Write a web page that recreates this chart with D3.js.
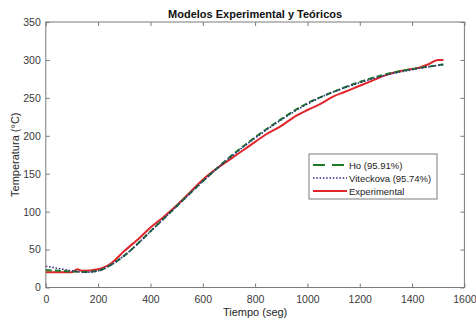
<!DOCTYPE html>
<html>
<head>
<meta charset="utf-8">
<script src="https://cdn.jsdelivr.net/npm/d3@7"></script>
<style>
  body { margin: 0; background: #fff; }
  text { font-family: "Liberation Sans", Arial, sans-serif; }
</style>
</head>
<body>
<div id="chart"></div>
<script>
// time (s) and temperature (°C)
const expT = [0, 50, 100, 120, 140, 200, 250, 300, 360, 400, 450, 500, 550, 600, 666, 700, 750, 800, 838, 900, 950, 1000, 1050, 1100, 1144, 1200, 1250, 1300, 1350, 1400, 1430, 1460, 1500, 1520];
const expY = [20, 20, 20, 24, 22, 24, 32, 48, 66, 79, 93, 108, 125, 142, 160, 168, 180, 192, 201, 213, 225, 234, 242, 252, 258, 266, 273, 280, 285, 288, 290, 294, 300, 300];

const modT = [0, 50, 100, 150, 200, 250, 300, 400, 500, 600, 700, 800, 900, 1000, 1100, 1200, 1300, 1400, 1500, 1520];
const hoY = [23, 22, 21, 20.5, 22, 30, 42, 74, 107, 140, 171, 198, 222, 243, 258, 271, 281, 288, 293, 294];
const vitY = [28, 25, 22, 20, 22, 30, 42, 74, 107, 140, 170, 197, 221, 242, 258, 270, 280, 287, 293, 294];

const xTicks = [0, 200, 400, 600, 800, 1000, 1200, 1400, 1600];
const yTicks = [0, 50, 100, 150, 200, 250, 300, 350];
const legendLabels = ["Ho (95.91%)", "Viteckova (95.74%)", "Experimental"];

const width = 476, height = 323;
const margin = { top: 22, right: 11.6, bottom: 35.5, left: 45.8 };

const svg = d3.select("#chart").append("svg")
    .attr("width", width)
    .attr("height", height);

const x = d3.scaleLinear().domain([0, 1600]).range([margin.left, width - margin.right]);
const y = d3.scaleLinear().domain([0, 350]).range([height - margin.bottom, margin.top]);

const axisColor = "#7a7a7a";

// lines
const line = d3.line().x(d => x(d[0])).y(d => y(d[1])).curve(d3.curveMonotoneX);

svg.append("path")
    .datum(expT.map((t, i) => [t, expY[i]]))
    .attr("fill", "none")
    .attr("stroke", "#e0262b")
    .attr("stroke-width", 2)
    .attr("d", line);

svg.append("path")
    .datum(modT.map((t, i) => [t, hoY[i]]))
    .attr("fill", "none")
    .attr("stroke", "#1d7a25")
    .attr("stroke-width", 2)
    .attr("stroke-dasharray", "6,3")
    .attr("d", line);

svg.append("path")
    .datum(modT.map((t, i) => [t, vitY[i]]))
    .attr("fill", "none")
    .attr("stroke", "#2a2a86")
    .attr("stroke-width", 1.6)
    .attr("stroke-dasharray", "1.5,1.8")
    .attr("d", line);

// box and axes
svg.append("rect")
    .attr("x", x(0)).attr("y", y(350))
    .attr("width", x(1600) - x(0)).attr("height", y(0) - y(350))
    .attr("fill", "none").attr("stroke", axisColor).attr("stroke-width", 1);

const fmt = d3.format("d");
const xAxis = svg.append("g")
    .attr("transform", `translate(0,${y(0)})`)
    .call(d3.axisBottom(x).tickValues(xTicks).tickFormat(fmt).tickSize(-4).tickPadding(8));
const yAxis = svg.append("g")
    .attr("transform", `translate(${x(0)},0)`)
    .call(d3.axisLeft(y).tickValues(yTicks).tickFormat(fmt).tickSize(-4).tickPadding(5));
const xTop = svg.append("g")
    .attr("transform", `translate(0,${y(350)})`)
    .call(d3.axisTop(x).tickValues(xTicks).tickSize(-4).tickFormat(""));
const yRight = svg.append("g")
    .attr("transform", `translate(${x(1600)},0)`)
    .call(d3.axisRight(y).tickValues(yTicks).tickSize(-4).tickFormat(""));

[xAxis, yAxis, xTop, yRight].forEach(g => {
    g.select(".domain").remove();
    g.selectAll(".tick line").attr("stroke", axisColor);
    g.selectAll(".tick text")
        .attr("fill", "#3a3a3a")
        .style("font-size", "10.5px");
});

// labels
svg.append("text")
    .attr("x", (x(0) + x(1600)) / 2)
    .attr("y", 18)
    .attr("text-anchor", "middle")
    .style("font-size", "11px")
    .style("font-weight", "bold")
    .attr("fill", "#111")
    .text("Modelos Experimental y Teóricos");

svg.append("text")
    .attr("x", (x(0) + x(1600)) / 2)
    .attr("y", 315.5)
    .attr("text-anchor", "middle")
    .style("font-size", "11px")
    .attr("fill", "#262626")
    .text("Tiempo (seg)");

svg.append("text")
    .attr("transform", `translate(19,${(y(0) + y(350)) / 2}) rotate(-90)`)
    .attr("text-anchor", "middle")
    .style("font-size", "11px")
    .attr("fill", "#262626")
    .text("Temperatura (°C)");

// legend
const lg = svg.append("g").attr("transform", "translate(309,154)");
lg.append("rect")
    .attr("width", 128).attr("height", 45)
    .attr("fill", "#fff").attr("stroke", axisColor).attr("stroke-width", 1);

const legendStyle = [
    { color: "#1d7a25", dash: "12,7", w: 2 },
    { color: "#2a2a86", dash: "1.5,1.8", w: 1.6 },
    { color: "#e0262b", dash: null, w: 2 }
];

legendLabels.forEach((lab, i) => {
    const cy = 11 + i * 13;
    lg.append("line")
        .attr("x1", 4).attr("x2", 38)
        .attr("y1", cy).attr("y2", cy)
        .attr("stroke", legendStyle[i].color)
        .attr("stroke-width", legendStyle[i].w)
        .attr("stroke-dasharray", legendStyle[i].dash);
    lg.append("text")
        .attr("x", 40).attr("y", cy + 3.5)
        .style("font-size", "9.5px")
        .attr("fill", "#1a1a1a")
        .text(lab);
});
</script>
</body>
</html>
